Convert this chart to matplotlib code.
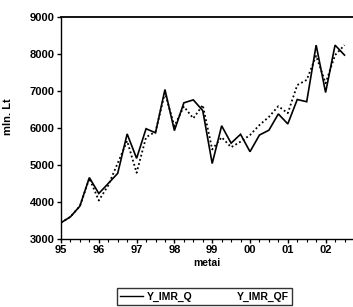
import matplotlib
matplotlib.use("Agg")
import matplotlib.pyplot as plt
from matplotlib.lines import Line2D
import numpy as np

plt.rcParams['font.family'] = ['Liberation Sans', 'DejaVu Sans']

quarters = np.arange(1995.0, 2002.75, 0.25)  # 95Q1 .. 02Q3
y_imr_q = [3440, 3600, 3890, 4660,
           4230, 4500, 4775, 5840,
           5180, 5980, 5870, 7040,
           5930, 6680, 6760, 6470,
           5040, 6060, 5590, 5830,
           5360, 5810, 5940, 6380,
           6110, 6770, 6710, 8240,
           6960, 8240, 7970]
y_imr_qf = [3440, 3600, 3890, 4640,
            4040, 4450, 5050, 5650,
            4790, 5750, 5900, 6950,
            6050, 6580, 6260, 6620,
            5420, 5750, 5480, 5630,
            5810, 6080, 6300, 6590,
            6400, 7160, 7300, 7950,
            7210, 7970, 8240]
year_ticks = [1995, 1996, 1997, 1998, 1999, 2000, 2001, 2002]
year_labels = ['95', '96', '97', '98', '99', '00', '01', '02']
y_ticks = [3000, 4000, 5000, 6000, 7000, 8000, 9000]

fig = plt.figure(figsize=(3.53, 3.07), dpi=100)
ax = fig.add_axes([61/353, 1-239/307, (353-61)/353, (239-17)/307])

ax.plot(quarters, y_imr_q, color='black', lw=1.2, solid_joinstyle='miter')
ax.plot(quarters, y_imr_qf, color='black', lw=1.3, linestyle=(0, (1, 1.4)))

ax.set_xlim(1995.0, 1995 + (353-61)/37.8)
ax.set_ylim(3000, 9000)
ax.set_xticks(year_ticks)
ax.set_xticklabels(year_labels, fontsize=8, fontweight='bold')
ax.set_xticks(np.arange(1995.0, 2002.75, 0.25), minor=True)
ax.set_yticks(y_ticks)
ax.set_yticklabels([str(v) for v in y_ticks], fontsize=8, fontweight='bold')
ax.tick_params(axis='both', which='major', direction='out', length=3, width=1, pad=1.5)
ax.tick_params(axis='x', which='minor', direction='out', length=2, width=0.8)
ax.spines['right'].set_visible(False)
ax.spines['top'].set_linewidth(1.3)
ax.spines['left'].set_linewidth(1.0)
ax.spines['bottom'].set_linewidth(1.0)

ax.set_xlabel('metai', fontsize=7.5, fontweight='bold', labelpad=2)
ax.set_ylabel('mln. Lt', fontsize=8, fontweight='bold')
ax.yaxis.set_label_coords(-0.165, 0.55)

handles = [Line2D([0], [0], color='black', lw=1.0),
           Line2D([0], [0], color='black', lw=0)]
leg = fig.legend(handles, ['Y_IMR_Q', 'Y_IMR_QF'], ncol=2,
                 loc='upper left', bbox_to_anchor=(116.5/353, 1-288/307),
                 frameon=True, fancybox=False, fontsize=7.5,
                 handlelength=2.2, handletextpad=0.4, columnspacing=1.6,
                 borderpad=0.35, borderaxespad=0)
leg.get_frame().set_edgecolor('black')
leg.get_frame().set_linewidth(1.0)
for t in leg.get_texts():
    t.set_fontweight('bold')

fig.savefig('out.png', dpi=100)
